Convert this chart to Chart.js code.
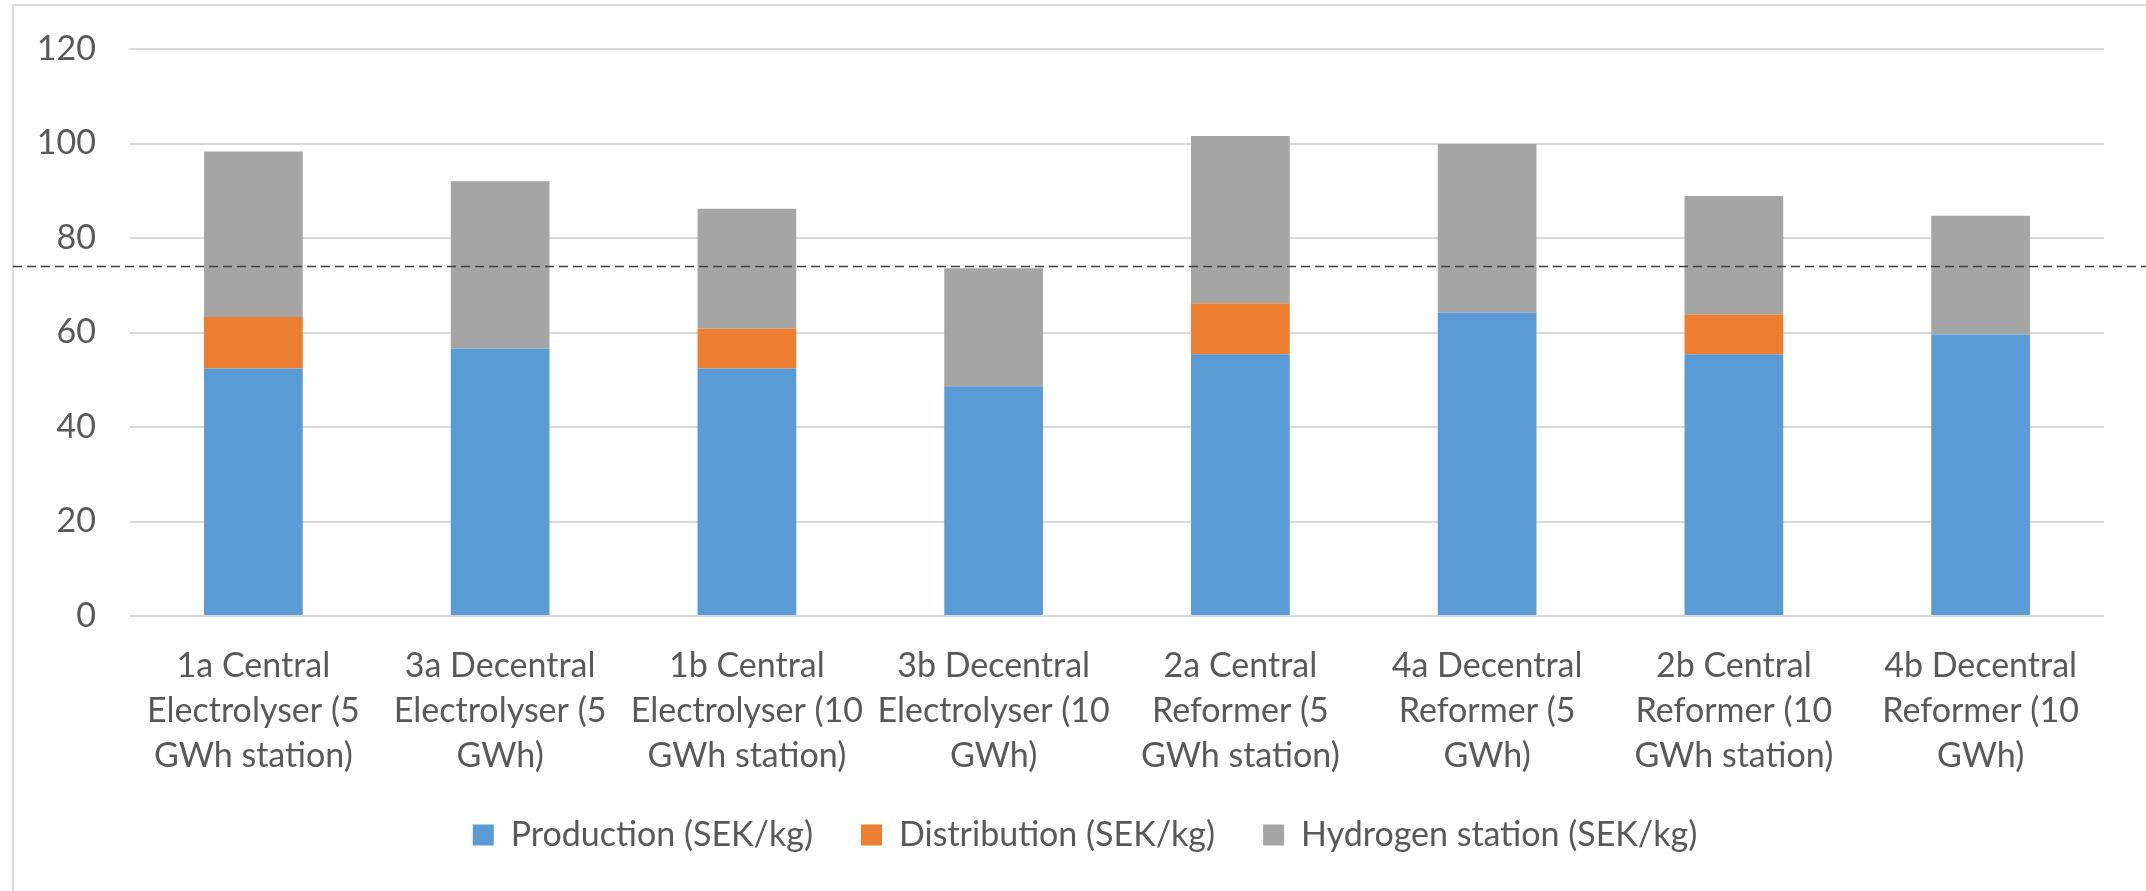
<!DOCTYPE html>
<html>
<head>
<meta charset="utf-8">
<script src="https://cdn.jsdelivr.net/npm/chart.js@4.4.1/dist/chart.umd.min.js"></script>
<style>
  html, body { margin: 0; padding: 0; background: #fff; overflow: hidden; }
  #wrap { position: relative; width: 2146px; height: 891px; }
  #frame { position: absolute; left: 12px; top: 4px; right: 0; bottom: 0;
           border-left: 2px solid #d9d9d9; border-top: 2px solid #d9d9d9; }
  canvas { position: absolute; left: 0; top: 0; }
</style>
</head>
<body>
<div id="wrap">
  <div id="frame"></div>
  <canvas id="costChart" width="2146" height="891"></canvas>
</div>
<script>
// Kategorier (en rad per textrad under stapeln)
var categories = [
  ["1a Central", "Electrolyser (5", "GWh station)"],
  ["3a Decentral", "Electrolyser (5", "GWh)"],
  ["1b Central", "Electrolyser (10", "GWh station)"],
  ["3b Decentral", "Electrolyser (10", "GWh)"],
  ["2a Central", "Reformer (5", "GWh station)"],
  ["4a Decentral", "Reformer (5", "GWh)"],
  ["2b Central", "Reformer (10", "GWh station)"],
  ["4b Decentral", "Reformer (10", "GWh)"]
];

// SEK/kg
var production   = [52.4, 56.6, 52.4, 48.6, 55.4, 64.2, 55.4, 59.6];
var distribution = [10.9, 0,    8.4,  0,    10.8, 0,    8.4,  0];
var station      = [35.0, 35.4, 25.4, 25.0, 35.4, 35.7, 25.1, 25.1];

var yTicks = [0, 20, 40, 60, 80, 100, 120];
var targetLevel = 74; // streckad linje

var textColor = '#595959';
var fontFamily = "Lato, 'Open Sans', sans-serif";

// streckad horisontell linje över hela bilden
var targetLinePlugin = {
  id: 'targetLine',
  afterDatasetsDraw: function (chart) {
    var ctx = chart.ctx;
    var y = Math.round(chart.scales.y.getPixelForValue(targetLevel)) + 0.5;
    ctx.save();
    ctx.strokeStyle = '#404040';
    ctx.lineWidth = 1.5;
    ctx.setLineDash([9, 5]);
    ctx.beginPath();
    ctx.moveTo(13, y);
    ctx.lineTo(chart.width, y);
    ctx.stroke();
    ctx.restore();
  }
};

// flytta legenden lite (centrerad under stapelytan, närmare etiketterna)
var legendShiftPlugin = {
  id: 'legendShift',
  afterLayout: function (chart) {
    var lg = chart.legend;
    var dx = 33, dy = -16;
    lg.left += dx; lg.right += dx;
    lg.top += dy; lg.bottom += dy;
  }
};

document.addEventListener("DOMContentLoaded", function () {
  var ctx = document.getElementById("costChart").getContext("2d");
  new Chart(ctx, {
    type: 'bar',
    data: {
      labels: categories,
      datasets: [
        { label: 'Production (SEK/kg)', data: production, backgroundColor: '#5B9BD5' },
        { label: 'Distribution (SEK/kg)', data: distribution, backgroundColor: '#ED7D31' },
        { label: 'Hydrogen station (SEK/kg)', data: station, backgroundColor: '#A5A5A5' }
      ]
    },
    options: {
      responsive: false,
      devicePixelRatio: 1,
      animation: false,
      categoryPercentage: 1.0,
      barPercentage: 0.4,
      layout: { padding: { left: 0, right: 42, top: 49, bottom: 13 } },
      plugins: {
        tooltip: { enabled: false },
        legend: {
          position: 'bottom',
          labels: {
            color: textColor,
            font: { family: fontFamily, size: 34 },
            boxWidth: 21,
            boxHeight: 21,
            padding: 48
          }
        }
      },
      scales: {
        x: {
          stacked: true,
          grid: { display: false, drawTicks: false },
          border: { display: false },
          ticks: {
            color: textColor,
            font: { family: fontFamily, size: 34, lineHeight: 1.32 },
            padding: 28,
            maxRotation: 0,
            autoSkip: false
          },
          afterFit: function (scale) { scale.height = 170; }
        },
        y: {
          stacked: true,
          min: 0,
          max: 120,
          afterBuildTicks: function (scale) {
            scale.ticks = yTicks.map(function (v) { return { value: v }; });
          },
          grid: { color: '#d9d9d9', lineWidth: 2, drawTicks: false },
          border: { display: false },
          ticks: {
            color: textColor,
            font: { family: fontFamily, size: 34 },
            padding: 34
          },
          afterFit: function (scale) {
            scale.width = 130;
            scale.paddingTop = 0;
            scale.paddingBottom = 0;
          }
        }
      }
    },
    plugins: [targetLinePlugin, legendShiftPlugin]
  });
});
</script>
</body>
</html>
